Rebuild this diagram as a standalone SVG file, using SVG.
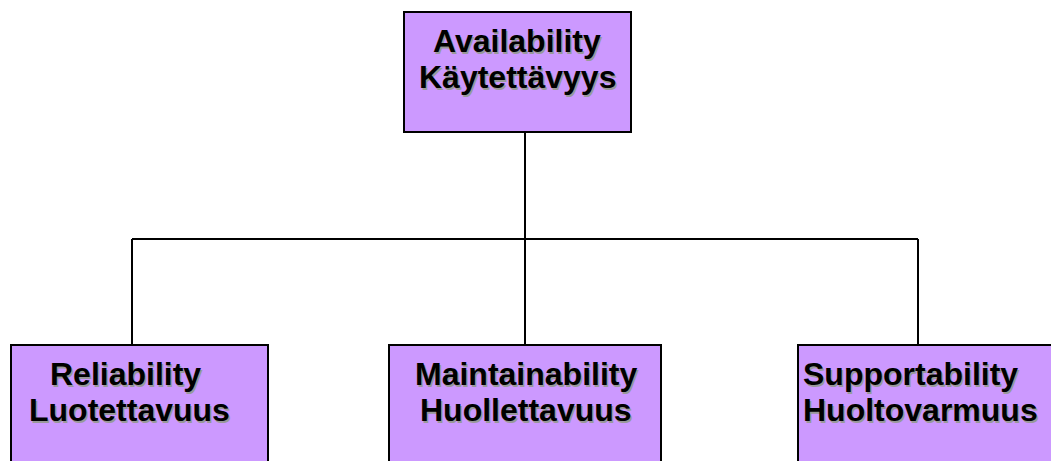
<svg xmlns="http://www.w3.org/2000/svg" width="1051" height="461" viewBox="0 0 1051 461">
<style>
.box{fill:#CC99FF;stroke:#000;stroke-width:2}
.t{font-family:"Liberation Sans",Arial,sans-serif;font-weight:bold;font-size:32px;fill:#000}
.s{font-family:"Liberation Sans",Arial,sans-serif;font-weight:bold;font-size:32px;fill:#999}
.c{fill:none;stroke:#000;stroke-width:2}
</style>
<rect width="1051" height="461" fill="#fff"/>
<g id="connectors">
<path class="c" d="M525 132V239M132 239H918M132 239V345M525 239V345M918 239V345"/>
</g>
<g id="availability">
<rect class="box" x="404" y="12" width="227" height="120"/>
<text class="s" x="434.5" y="53.5">Availability</text>
<text class="s" x="420.5" y="89.5">Käytettävyys</text>
<text class="t" x="433" y="52">Availability</text>
<text class="t" x="419" y="88">Käytettävyys</text>
</g>
<g id="reliability">
<rect class="box" x="11" y="345" width="257" height="130"/>
<text class="s" x="51.5" y="386.5">Reliability</text>
<text class="s" x="30.5" y="422.5">Luotettavuus</text>
<text class="t" x="50" y="385">Reliability</text>
<text class="t" x="29" y="421">Luotettavuus</text>
</g>
<g id="maintainability">
<rect class="box" x="389" y="345" width="272" height="130"/>
<text class="s" x="416.5" y="386.5">Maintainability</text>
<text class="s" x="421.5" y="422.5">Huollettavuus</text>
<text class="t" x="415" y="385">Maintainability</text>
<text class="t" x="420" y="421">Huollettavuus</text>
</g>
<g id="supportability">
<rect class="box" x="798" y="345" width="270" height="130"/>
<text class="s" x="804.5" y="386.5">Supportability</text>
<text class="s" x="804.5" y="422.5">Huoltovarmuus</text>
<text class="t" x="803" y="385">Supportability</text>
<text class="t" x="803" y="421">Huoltovarmuus</text>
</g>
</svg>
